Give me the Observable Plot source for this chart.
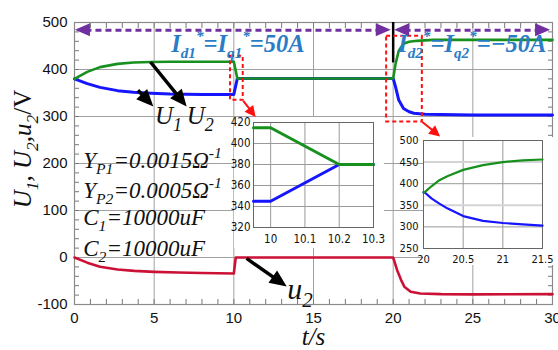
<!DOCTYPE html>
<html><head><meta charset="utf-8">
<script src="https://cdn.jsdelivr.net/npm/d3@7"></script>
<script src="https://cdn.jsdelivr.net/npm/@observablehq/plot@0.6"></script>
<style>
body{margin:0;background:#fff;}
#wrap{position:relative;width:558px;height:350px;overflow:hidden;}
#wrap > svg{position:absolute;}
</style></head><body><div id="wrap"></div>
<script>
// ---------- data ----------
// main chart: U2 (green), U1 (blue), u2 (red)
const tU2 = [0, 0.8, 1.6, 2.7, 3.7, 4.8, 6, 8, 10, 10.22, 12, 15, 18, 20, 20.15, 20.35, 20.65, 21, 21.5, 22.5, 25, 30];
const vU2 = [380, 395, 405, 412, 415, 416, 416.5, 416.5, 416.5, 381, 381, 381, 381, 381, 412, 440, 455, 459, 461, 463, 463, 463];
const tU1 = [0, 0.8, 1.6, 2.7, 3.7, 4.8, 6, 8, 10, 10.22, 12, 15, 18, 20, 20.15, 20.35, 20.65, 21, 21.3, 22, 23, 25, 30];
const vU1 = [380, 370, 362, 355, 351.5, 349.5, 348, 347, 347, 381, 381, 381, 381, 381, 363, 335, 317, 310, 307, 305, 304, 303, 303];
const tu2 = [0, 0.8, 1.6, 2.7, 3.75, 5, 6.5, 8, 10, 10.12, 12, 15, 18, 20, 20.25, 20.5, 20.7, 21.1, 21.7, 23, 25, 30];
const vu2 = [0, -11, -19.5, -25.5, -28.5, -30.5, -32, -33, -34, 0, 0, 0, 0, 0, -27, -48, -62, -73, -76.5, -78, -78.5, -78];
const xTicks = [0, 5, 10, 15, 20, 25, 30];
const yTicks = [-100, 0, 100, 200, 300, 400, 500];

// inset 1 (t = 9.95 .. 10.3)
const tIn1 = [9.95, 10.0, 10.2, 10.3];
const vIn1U2 = [415, 415, 380, 380];
const vIn1U1 = [345, 345, 380, 380];
const in1XTicks = [10, 10.1, 10.2, 10.3];
const in1YTicks = [320, 340, 360, 380, 400, 420];

// inset 2 (t = 20 .. 21.5)
const tIn2 = [20.0, 20.02, 20.1, 20.2, 20.3, 20.5, 20.75, 21, 21.25, 21.5];
const vIn2U2 = [380, 381, 394, 408, 417, 432, 443, 450, 454, 456];
const vIn2U1 = [380, 379, 366, 354, 343, 325, 314, 309, 306, 303];
const in2XTicks = [20, 20.5, 21, 21.5];
const in2YTicks = [250, 300, 350, 400, 450, 500];

// annotations (data coordinates)
const purpleArrows = [{t1: 0.06, t2: 19.88, v: 483.6}, {t1: 20.09, t2: 29.88, v: 483.6}];
const stepMarker = [{t: 20, v1: 500, v2: 414}];
const redBoxes = [{t1: 9.79, t2: 10.59, v1: 334.7, v2: 428.3}, {t1: 19.59, t2: 21.83, v1: 288.5, v2: 470.9}];
const redArrows = [{t1: 10.59, v1: 333, t2: 11.4, v2: 298}, {t1: 21.83, v1: 288.5, t2: 22.98, v2: 256.6}];
const blackArrows = [{t1: 3.98, v1: 356, t2: 4.98, v2: 320}, {t1: 4.77, v1: 416, t2: 7.07, v2: 320}, {t1: 10.8, v1: -2, t2: 13.35, v2: -62.5}];
const paramLabels = [
  {t: 0.58, v: 189.4, segs: [["Y"], ["P1", "sub"], ["=0.0015Ω"], ["-1", "sup"]]},
  {t: 0.58, v: 125.5, segs: [["Y"], ["P2", "sub"], ["=0.0005Ω"], ["-1", "sup"]]},
  {t: 0.58, v: 68.7, segs: [["C"], ["1", "sub"], ["=10000uF"]]},
  {t: 0.58, v: 2.8, segs: [["C"], ["2", "sub"], ["=10000uF"]]}
];
const curveLabels = [
  {t: 5.08, v: 283.6, segs: [["U"], ["1", "sub"]]},
  {t: 7.07, v: 283.6, segs: [["U"], ["2", "sub"]]}
];
const u2Label = [{t: 13.39, v: -89.4, segs: [["u"], ["2", "sub"]]}];
const refLabels = [
  {t: 6.1, v: 437, segs: [["I"], ["d1", "sub"], ["*", "sup"], ["=I"], ["q1", "sub"], ["*", "sup"], ["=50A"]]},
  {t: 20.34, v: 437, segs: [["I"], ["d2", "sub"], ["*", "sup"], ["=I"], ["q2", "sub"], ["*", "sup"], ["=−50A"]]}
];
const yLabelSegs = [["U"], ["1", "sub"], [", "], ["U"], ["2", "sub"], [","], ["u"], ["2", "sub"], ["/V", "n", "normal"]];

// ---------- styles ----------
const GREEN = "#17901e", BLUE = "#1515ff", RED = "#cc1136", PURPLE = "#7030a0", REFBLUE = "#2a7cc6";
const serif = "'Liberation Serif','Times New Roman',serif";
const sans = "'Liberation Sans',Arial,sans-serif";
const narrow = "'Liberation Sans Narrow','Arial Narrow','DejaVu Sans Condensed',sans-serif";

const rows = (ts, vs) => ts.map((t, i) => ({t, v: vs[i]}));
const minorX = d3.range(0, 31, 1);
const minorY = d3.range(-100, 501, 20);
const fmt = d => String(d);

const wrap = document.getElementById("wrap");

const main = Plot.plot({
  width: 558, height: 350,
  marginLeft: 74, marginRight: 6, marginTop: 22, marginBottom: 46,
  style: {fontFamily: sans, fontSize: "15px", color: "#222", background: "transparent"},
  x: {domain: [0, 30]},
  y: {domain: [-100, 500]},
  marks: [
    Plot.gridX(xTicks.slice(1, -1), {stroke: "#a0a0a0", strokeOpacity: 1}),
    Plot.gridY(yTicks.slice(1, -1), {stroke: "#a0a0a0", strokeOpacity: 1}),
    Plot.axisX(minorX, {anchor: "bottom", tickSize: -5, fill: "none", label: null, stroke: "#777"}),
    Plot.axisX(minorX, {anchor: "top", tickSize: -5, fill: "none", label: null, stroke: "#777"}),
    Plot.axisY(minorY, {anchor: "left", tickSize: -5, fill: "none", label: null, stroke: "#777"}),
    Plot.axisY(minorY, {anchor: "right", tickSize: -5, fill: "none", label: null, stroke: "#777"}),
    Plot.frame({stroke: "#8a8a8a", strokeWidth: 1.2}),
    Plot.axisX(xTicks, {tickSize: 0, tickPadding: 8, label: null, fill: "#111", tickFormat: fmt}),
    Plot.axisY(yTicks, {tickSize: 0, tickPadding: 7, label: null, fill: "#111", tickFormat: fmt}),
    Plot.line(rows(tU1, vU1), {x: "t", y: "v", stroke: BLUE, strokeWidth: 3}),
    Plot.line(rows(tU2, vU2), {x: "t", y: "v", stroke: GREEN, strokeWidth: 2.6}),
    Plot.line(rows(tu2, vu2), {x: "t", y: "v", stroke: RED, strokeWidth: 2.6}),
    Plot.text(["t/s"], {frameAnchor: "bottom", dy: 40, lineAnchor: "bottom", fontFamily: serif, fontStyle: "italic", fontSize: 25, fill: "#111"}),
    Plot.arrow(purpleArrows, {x1: "t1", x2: "t2", y1: "v", y2: "v", headLength: 0, insetStart: 10, insetEnd: 10, stroke: PURPLE, strokeWidth: 3, strokeDasharray: "6,4", strokeLinecap: "butt"}),
    Plot.ruleX(stepMarker, {x: "t", y1: "v1", y2: "v2", stroke: "black", strokeWidth: 2.5}),
    Plot.rect(redBoxes, {x1: "t1", x2: "t2", y1: "v1", y2: "v2", fill: "none", stroke: "#ff1010", strokeWidth: 2, strokeDasharray: "4,3"}),
    Plot.arrow(redArrows, {x1: "t1", y1: "v1", x2: "t2", y2: "v2", headLength: 0, insetEnd: 6, stroke: "#ff1010", strokeWidth: 2, strokeLinecap: "butt"}),
    Plot.arrow(blackArrows, {x1: "t1", y1: "v1", x2: "t2", y2: "v2", headLength: 0, insetEnd: 10, stroke: "black", strokeWidth: 3.5, strokeLinecap: "butt"})
  ]
});
main.style.left = "0px"; main.style.top = "0px";
wrap.appendChild(main);

const sx = main.scale("x"), sy = main.scale("y");
const svg = d3.select(main);

function heads(arr, color, len, wid, reverse) {
  const g = svg.append("g");
  for (const a of arr) {
    let x1 = sx.apply(a.t1), y1 = sy.apply(a.v1 ?? a.v), x2 = sx.apply(a.t2), y2 = sy.apply(a.v2 ?? a.v);
    if (reverse) [x1, y1, x2, y2] = [x2, y2, x1, y1];
    const L = Math.hypot(x2 - x1, y2 - y1), ux = (x2 - x1) / L, uy = (y2 - y1) / L;
    const bx = x2 - ux * len, by = y2 - uy * len;
    const pts = [[x2, y2], [bx - uy * wid / 2, by + ux * wid / 2], [bx + uy * wid / 2, by - ux * wid / 2]];
    g.append("polygon").attr("points", pts.map(p => p.join(",")).join(" ")).attr("fill", color);
  }
}
heads(purpleArrows, PURPLE, 15, 13, false);
heads(purpleArrows, PURPLE, 15, 13, true);
heads(redArrows, "#ff1010", 11, 11, false);
heads(blackArrows, "black", 17, 15, false);

function rich(sel, x, y, segs, o) {
  const size = o.size, sub = o.sub || 0.68;
  const t = sel.append("text").attr("x", x).attr("y", y)
    .attr("font-family", serif).attr("font-size", size).attr("font-style", o.style || "italic")
    .attr("font-weight", o.weight || "normal").attr("fill", o.fill || "#111")
    .attr("text-anchor", o.anchor || "start");
  if (o.transform) t.attr("transform", o.transform);
  let off = 0;
  for (const [s, k = "n", st] of segs) {
    const target = k === "sub" ? 0.28 * size : k === "sup" ? -0.42 * size : 0;
    const ts = t.append("tspan").attr("dy", target - off).text(s);
    if (k !== "n") ts.attr("font-size", size * sub);
    if (st) ts.attr("font-style", st);
    off = target;
  }
  return t;
}
for (const p of paramLabels) rich(svg, sx.apply(p.t), sy.apply(p.v), p.segs, {size: 23});
for (const p of curveLabels) rich(svg, sx.apply(p.t), sy.apply(p.v), p.segs, {size: 25, sub: 0.72});
for (const p of u2Label) rich(svg, sx.apply(p.t), sy.apply(p.v), p.segs, {size: 30, sub: 0.7});
for (const p of refLabels) rich(svg, sx.apply(p.t), sy.apply(p.v), p.segs, {size: 24.5, weight: "bold", fill: REFBLUE, sub: 0.62});
rich(svg, 0, 0, yLabelSegs, {size: 25, anchor: "middle", transform: "translate(31,149) rotate(-90)", sub: 0.7});

// ---------- insets ----------
const inset1 = Plot.plot({
  width: 150, height: 131, marginLeft: 19, marginRight: 11, marginTop: 5, marginBottom: 21,
  style: {fontFamily: narrow, fontSize: "11.5px", color: "#222", background: "white", overflow: "visible"},
  x: {domain: [9.95, 10.3]}, y: {domain: [320, 420]},
  marks: [
    Plot.gridX(in1XTicks.slice(0, -1), {stroke: "#999", strokeOpacity: 1}),
    Plot.gridY(in1YTicks.slice(1, -1), {stroke: "#999", strokeOpacity: 1}),
    Plot.frame({stroke: "#666"}),
    Plot.axisX(in1XTicks, {tickSize: 0, tickPadding: 7, label: null, fill: "#111", tickFormat: fmt}),
    Plot.axisY(in1YTicks, {tickSize: 0, tickPadding: 3, label: null, fill: "#111", tickFormat: fmt}),
    Plot.line(rows(tIn1, vIn1U1), {x: "t", y: "v", stroke: BLUE, strokeWidth: 3}),
    Plot.line(rows(tIn1, vIn1U2), {x: "t", y: "v", stroke: GREEN, strokeWidth: 3})
  ]
});
inset1.style.left = "234px"; inset1.style.top = "117px";
wrap.appendChild(inset1);

const inset2 = Plot.plot({
  width: 133, height: 128, marginLeft: 0, marginRight: 14, marginTop: 3, marginBottom: 17,
  style: {fontFamily: narrow, fontSize: "11px", color: "#222", background: "white", overflow: "visible"},
  x: {domain: [20, 21.5]}, y: {domain: [250, 500]},
  marks: [
    Plot.gridX([20.5, 21], {stroke: "#999", strokeOpacity: 1}),
    Plot.gridY([350, 450], {stroke: "#d4d4d4", strokeOpacity: 1, strokeWidth: 2}),
    Plot.gridY([300, 400], {stroke: "#999", strokeOpacity: 1}),
    Plot.frame({stroke: "#666"}),
    Plot.axisX(in2XTicks, {tickSize: 0, tickPadding: 7, label: null, fill: "#111", tickFormat: fmt}),
    Plot.axisY(in2YTicks, {tickSize: 0, tickPadding: 5, label: null, fill: "#111", tickFormat: fmt}),
    Plot.line(rows(tIn2, vIn2U1), {x: "t", y: "v", stroke: BLUE, strokeWidth: 2.2}),
    Plot.line(rows(tIn2, vIn2U2), {x: "t", y: "v", stroke: GREEN, strokeWidth: 2.2})
  ]
});
inset2.style.left = "423px"; inset2.style.top = "137px";
wrap.appendChild(inset2);
</script></body></html>
